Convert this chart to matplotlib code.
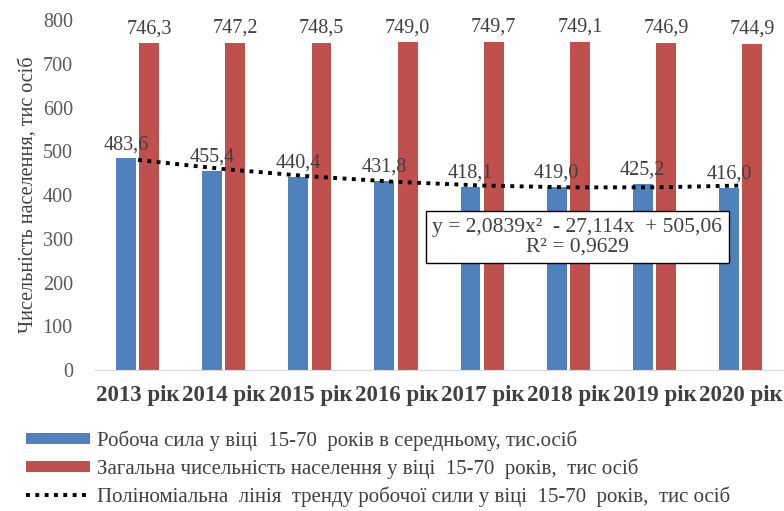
import matplotlib.pyplot as plt
import numpy as np

years = ["2013 рік", "2014 рік", "2015 рік", "2016 рік",
         "2017 рік", "2018 рік", "2019 рік", "2020 рік"]
labour = [483.6, 455.4, 440.4, 431.8, 418.1, 419.0, 425.2, 416.0]
population = [746.3, 747.2, 748.5, 749.0, 749.7, 749.1, 746.9, 744.9]
# trend values as drawn (polynomial trendline in the reference)
trend = [480.0, 459.2, 442.5, 430.0, 421.6, 417.5, 417.5, 421.6]

labour_name = "Робоча сила у віці  15-70  років в середньому, тис.осіб"
pop_name = "Загальна чисельність населення у віці  15-70  років,  тис осіб"
trend_name = "Поліноміальна  лінія  тренду робочої сили у віці  15-70  років,  тис осіб"
equation = "y = 2,0839x²  - 27,114x  + 505,06\nR² = 0,9629"

plt.rcParams["font.family"] = ["Liberation Serif", "DejaVu Serif"]
txt = "#404040"

fig = plt.figure(figsize=(7.84, 5.11), dpi=100)
ax = fig.add_axes([95 / 784, 1 - 370 / 511, 689 / 784, 350 / 511])

x = np.arange(len(years))
w = 0.23
b1 = ax.bar(x - 0.14, labour, w, color="#4f81bd", label=labour_name)
b2 = ax.bar(x + 0.13, population, w, color="#c0504d", label=pop_name)
ln, = ax.plot(x, trend, color="black", linestyle=(0, (1, 1.4)), linewidth=2.8,
              label=trend_name)

for xi, v in zip(x, labour):
    ax.text(xi - 0.14, v + 10, f"{v:.1f}".replace(".", ","), ha="center",
            va="bottom", fontsize=14.5, color=txt)
for xi, v in zip(x, population):
    ax.text(xi + 0.13, v + 12, f"{v:.1f}".replace(".", ","), ha="center",
            va="bottom", fontsize=14.5, color=txt)

ax.text(0.70, 0.38, equation, transform=ax.transAxes, ha="center", va="center",
        fontsize=15.5, color=txt, linespacing=1.05,
        bbox=dict(boxstyle="square,pad=0.3", fc="white", ec="black", lw=1))

ax.set_xlim(-0.5, len(years) - 0.5)
ax.set_ylim(0, 800)
ax.set_yticks(range(0, 801, 100))
ax.set_xticks(x)
ax.set_xticklabels(years, fontsize=16.5, fontweight="bold", color=txt)
ax.tick_params(axis="y", labelsize=14.5, colors="#595959", length=0, pad=16)
ax.tick_params(axis="x", length=0, pad=11)
for s in ["top", "right", "left"]:
    ax.spines[s].set_visible(False)
ax.spines["bottom"].set_color("#d9d9d9")
ax.set_ylabel("Чисельність населення, тис осіб", fontsize=14.5, color=txt,
              labelpad=4)

fig.legend(handles=[b1, b2, ln], loc="upper left", bbox_to_anchor=(0.022, 0.174),
           frameon=False, fontsize=15, handlelength=3.1, handleheight=0.45,
           labelspacing=0.36, handletextpad=0.35, labelcolor=txt,
           borderaxespad=0)

fig.savefig("out.png", dpi=100)
